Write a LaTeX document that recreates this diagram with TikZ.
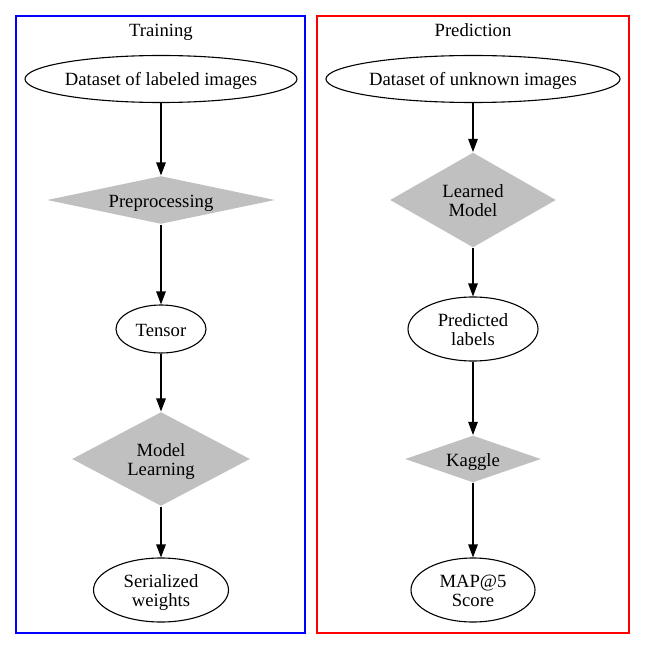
\documentclass[tikz,border=0pt]{standalone}
\usepackage{fontspec}
\setmainfont{Liberation Serif}
\usetikzlibrary{shapes.geometric,arrows.meta}
\definecolor{grayfill}{HTML}{C0C0C0}
\begin{document}
\begin{tikzpicture}[x=1pt,y=-1pt,line width=1.1pt,
  every node/.style={font=\fontsize{18.67}{18.67}\selectfont, align=center, inner sep=0pt,
    text height=14pt, text depth=0pt},
  twoline/.style={text height=32.67pt, text depth=0pt},
  blob/.style={ellipse, draw=black},
  gem/.style={diamond, fill=grayfill},
  link/.style={-{Triangle[length=13pt,width=9.5pt]}}]
\useasboundingbox (0,0) rectangle (645,650);
% clusters
\draw[blue] (16,16) rectangle (305,633);
\draw[red] (317,16) rectangle (629,633);
\node (train) at (161,30) {Training};
\node (pred) at (473,30) {Prediction};
% training
\node[blob, minimum width=269pt, minimum height=47pt] (labeled) at (161,79) {Dataset of labeled images};
\node[gem, minimum width=228pt, minimum height=48pt, aspect=4.75] (prep) at (161,200) {Preprocessing};
\node[blob, minimum width=90pt, minimum height=48pt] (tensor) at (161,329) {Tensor};
\node[gem, twoline, minimum width=178pt, minimum height=94pt, aspect=1.89] (learn) at (161,459) {Model\\Learning};
\node[blob, twoline, minimum width=135pt, minimum height=64pt] (weights) at (161,590) {Serialized\\weights};
% prediction
\node[blob, minimum width=291pt, minimum height=47pt] (unknown) at (473,79) {Dataset of unknown images};
\node[gem, twoline, minimum width=166pt, minimum height=95pt, aspect=1.75] (model) at (473,200) {Learned\\Model};
\node[blob, twoline, minimum width=130pt, minimum height=64pt] (labels) at (473,329) {Predicted\\labels};
\node[gem, minimum width=136pt, minimum height=47pt, aspect=2.9] (kaggle) at (473,459) {Kaggle};
\node[blob, twoline, minimum width=124pt, minimum height=64pt] (score) at (473,590) {MAP@5\\Score};
% edges
\draw[link] (labeled) -- (prep);
\draw[link] (prep) -- (tensor);
\draw[link] (tensor) -- (learn);
\draw[link] (learn) -- (weights);
\draw[link] (unknown) -- (model);
\draw[link] (model) -- (labels);
\draw[link] (labels) -- (kaggle);
\draw[link] (kaggle) -- (score);
\end{tikzpicture}
\end{document}
